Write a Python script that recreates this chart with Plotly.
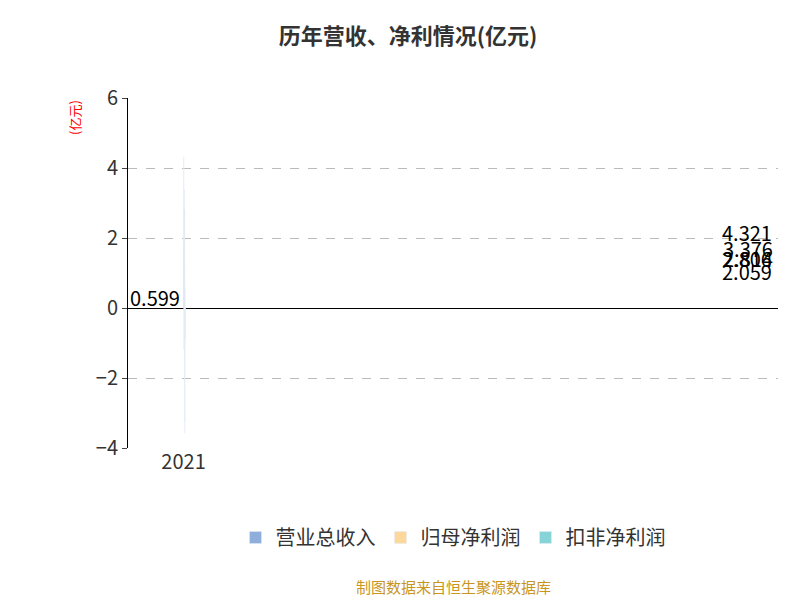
import plotly.graph_objects as go

years = ["2021", "2022", "2023", "2024", "2025", "2026H1"]
revenue = [2.059, 4.321, 2.806, 3.376, 2.814, 0.599]
net_profit = [0.65, 1.75, -1.18, -1.35, -3.58, -0.88]
net_profit_deducted = [1.18, 1.72, -1.18, -0.95, -3.25, -0.85]

fig = go.Figure()
fig.add_trace(go.Bar(x=years, y=revenue, name="营业总收入", marker_color="#8eaedb"))
fig.add_trace(go.Bar(x=years, y=net_profit, name="归母净利润", marker_color="#fdd89a"))
fig.add_trace(go.Bar(x=years, y=net_profit_deducted, name="扣非净利润", marker_color="#86d4d8"))

for yr, v in zip(years, revenue):
    fig.add_annotation(x=yr, y=v / 2, text=f"{v:.3f}", showarrow=False,
                       xshift=-30, font=dict(size=20, color="black"))

fig.update_layout(
    width=800, height=600,
    paper_bgcolor="white", plot_bgcolor="white",
    font=dict(family="Noto Sans CJK SC", color="#333"),
    title=dict(text="<b>历年营收、净利情况(亿元)</b>", x=0.5, y=0.965,
               font=dict(size=22, color="#333")),
    margin=dict(l=120, r=30, t=90, b=160),
    barmode="group", bargap=0.2, bargroupgap=0.1,
    legend=dict(orientation="h", x=0.5, xanchor="center", y=-0.2,
                font=dict(size=20)),
    xaxis=dict(type="category", showline=False, ticks="", tickfont=dict(size=20)),
    yaxis=dict(range=[-4, 6], dtick=2, showgrid=True, gridcolor="#bbb",
               griddash="dash", showline=True, linecolor="black",
               ticks="outside", tickfont=dict(size=20), zeroline=True,
               zerolinecolor="black", zerolinewidth=1),
)
fig.add_annotation(text="(亿元)", xref="paper", yref="paper", x=-0.1, y=1.0,
                   textangle=-90, showarrow=False, yanchor="top",
                   font=dict(size=13, color="red"))
fig.add_annotation(text="制图数据来自恒生聚源数据库", xref="paper", yref="paper",
                   x=0.5, y=-0.43, showarrow=False,
                   font=dict(size=15, color="#c8961e"))
fig.write_html("out.html")
